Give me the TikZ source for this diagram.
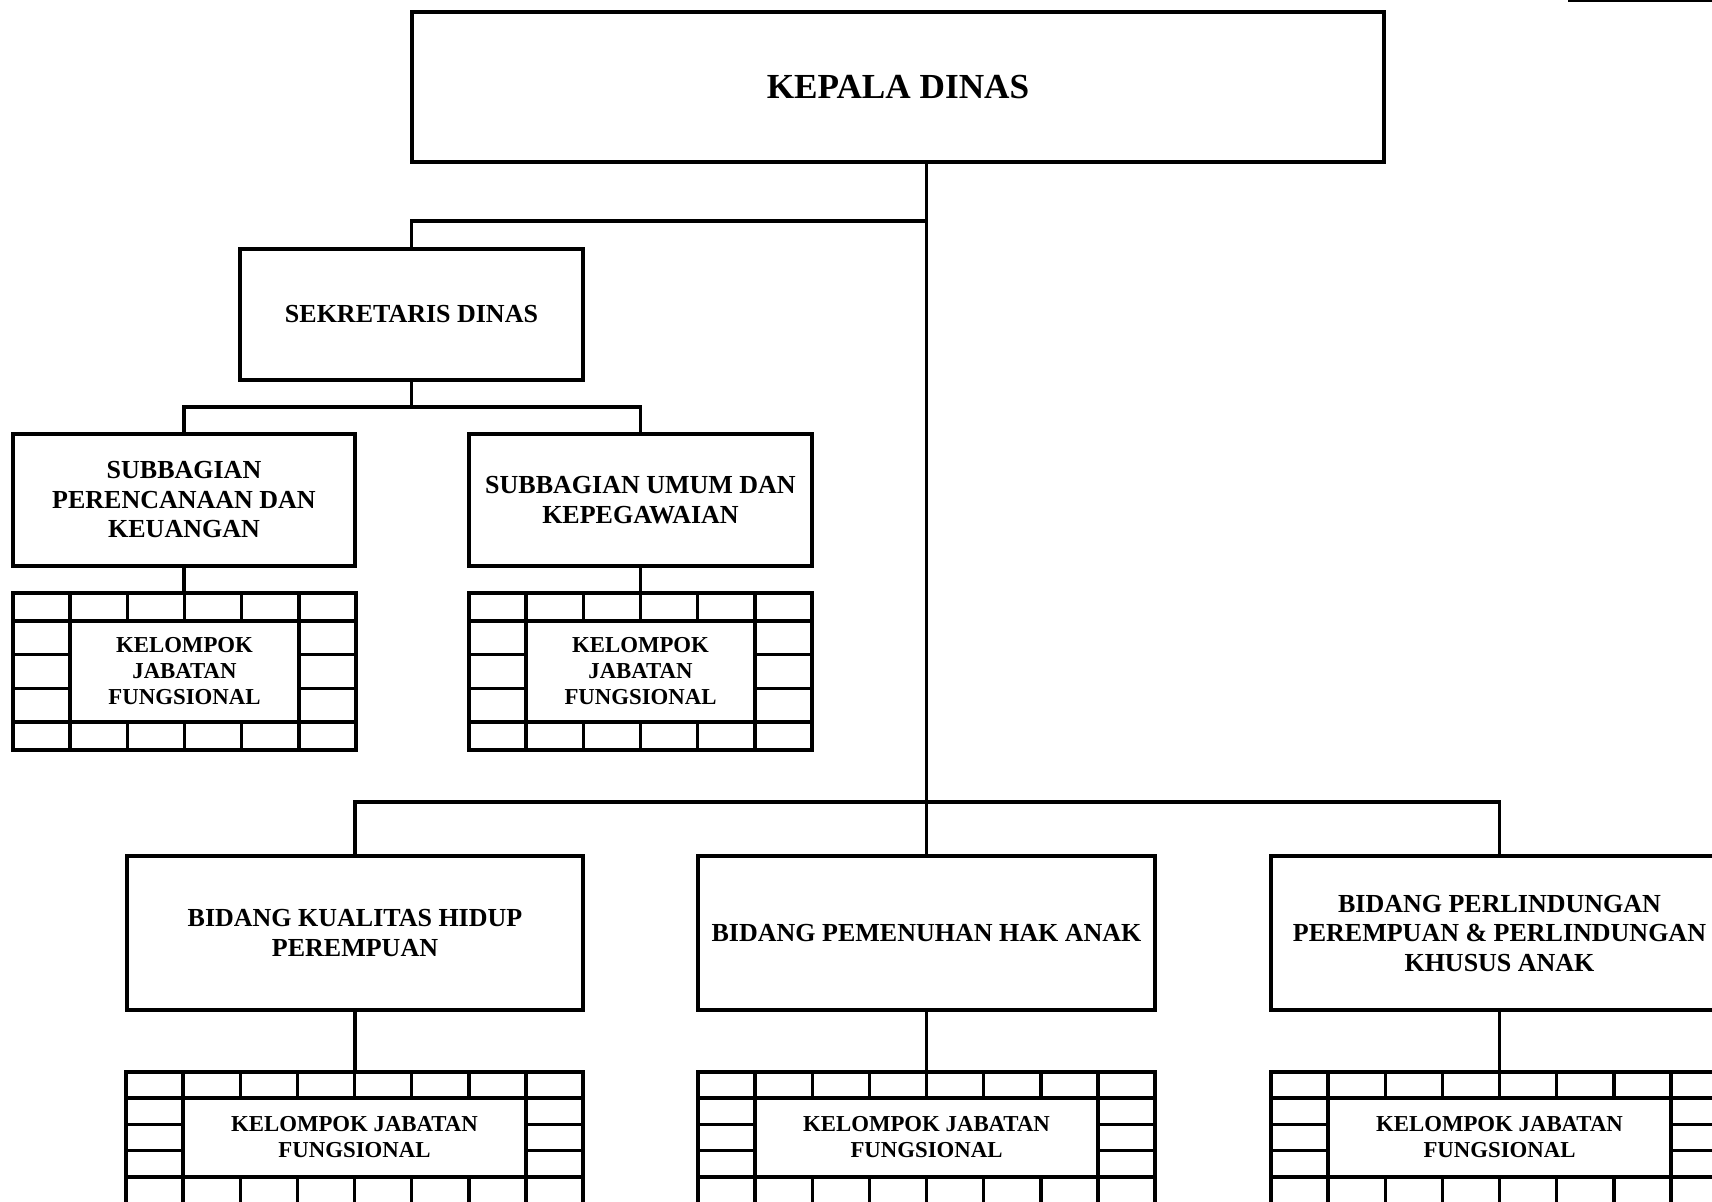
\documentclass[tikz,border=0pt]{standalone}
\usepackage{fontspec}
\setmainfont{Liberation Serif}
\newcommand{\kjgrid}[9]{%
  % #1 name, #2 x0, #3 x1, #4 ncols, #5 ytop, #6 ya, #7 yb, #8 ybottom, #9 text
  \pgfmathsetmacro{\kjcw}{(#3-#2)/#4}
  \pgfmathsetmacro{\kjxa}{#2+\kjcw}
  \pgfmathsetmacro{\kjxb}{#3-\kjcw}
  \pgfmathsetmacro{\kjya}{#6+(#7-#6)/3}
  \pgfmathsetmacro{\kjyb}{#6+2*(#7-#6)/3}
  \node[gridbox, minimum width={(#3-#2)*0.5pt}, minimum height={(#8-#5)*0.5pt}]
    (#1) at ({(#2+#3)/2},{(#5+#8)/2}) {};
  \draw[ln] (#2,#6) -- (#3,#6) (#2,#7) -- (#3,#7);
  \draw[ln] (\kjxa,#5) -- (\kjxa,#8) (\kjxb,#5) -- (\kjxb,#8);
  \pgfmathtruncatemacro{\kjn}{#4-1}
  \foreach \i in {1,...,\kjn}{
    \draw[ln] ({#2+\i*\kjcw},#5) -- ({#2+\i*\kjcw},#6)
              ({#2+\i*\kjcw},#7) -- ({#2+\i*\kjcw},#8);
  }
  \draw[ln] (#2,\kjya) -- (\kjxa,\kjya) (#2,\kjyb) -- (\kjxa,\kjyb)
            (\kjxb,\kjya) -- (#3,\kjya) (\kjxb,\kjyb) -- (#3,\kjyb);
  \node[kjtext] (#1t) at ({(#2+#3)/2},{(#6+#7)/2}) {#9};
}
\begin{document}
\begin{tikzpicture}[x=0.5pt,y=-0.5pt,
  ln/.style={line width=1.75pt, line cap=rect},
  box/.style={draw, line width=1.75pt, rectangle, inner sep=0pt, align=center,
    font=\fontsize{13}{14.75}\selectfont\bfseries},
  gridbox/.style={draw, line width=1.75pt, rectangle, inner sep=0pt},
  kjtext/.style={inner sep=0pt, align=center,
    font=\fontsize{11.4}{13}\selectfont\bfseries}]
\useasboundingbox (0,0) rectangle (1712,1201);
\clip (0,0) rectangle (1712,1201);

% top-right stray line
\draw[line width=0.75pt] (1568,0.8) -- (1712,0.8);

% boxes
\node[box, minimum width=486pt, minimum height=75pt,
  font=\fontsize{17.6}{20}\selectfont\bfseries] (kepala) at (898,87) {\raisebox{-1pt}{KEPALA DINAS}};
\node[box, minimum width=171.5pt, minimum height=65.5pt] (sek) at (411.5,314.5) {SEKRETARIS DINAS};
\node[box, minimum width=171pt, minimum height=66pt] (sub1) at (184,500)
  {SUBBAGIAN\\PERENCANAAN DAN\\KEUANGAN};
\node[box, minimum width=171.5pt, minimum height=66pt] (sub2) at (640.5,500)
  {SUBBAGIAN UMUM DAN\\KEPEGAWAIAN};
\node[box, minimum width=228pt, minimum height=77pt] (b1) at (355,933)
  {BIDANG KUALITAS HIDUP\\PEREMPUAN};
\node[box, minimum width=228.5pt, minimum height=77pt] (b2) at (926.5,933)
  {BIDANG PEMENUHAN HAK ANAK};
\node[box, minimum width=228.5pt, minimum height=77pt] (b3) at (1499.5,933)
  {BIDANG PERLINDUNGAN\\PEREMPUAN \& PERLINDUNGAN\\KHUSUS ANAK};

% kelompok jabatan fungsional grids
\kjgrid{g1}{13}{356}{6}{593}{621}{722}{750}{KELOMPOK\\JABATAN\\FUNGSIONAL}
\kjgrid{g2}{469}{812}{6}{593}{621}{722}{750}{KELOMPOK\\JABATAN\\FUNGSIONAL}
\kjgrid{g3}{126}{583}{8}{1072}{1098}{1177}{1204}{KELOMPOK JABATAN\\FUNGSIONAL}
\kjgrid{g4}{698}{1155}{8}{1072}{1098}{1177}{1204}{KELOMPOK JABATAN\\FUNGSIONAL}
\kjgrid{g5}{1271}{1728}{8}{1072}{1098}{1177}{1204}{KELOMPOK JABATAN\\FUNGSIONAL}

% connectors
\coordinate (j1) at (926.5,221);
\coordinate (j2) at (926.5,802);
\coordinate (j3) at (411.5,407);
\draw[ln] (kepala.south -| b2.north) -- (b2.north);
\draw[ln] (j1) -| (sek.north);
\draw[ln] (b1.north) |- (j2) -| (b3.north);
\draw[ln] (sek.south) -- (j3);
\draw[ln] (sub1.north) |- (j3) -| (sub2.north);
\draw[ln] (sub1.south) -- (sub1.south |- g1.north);
\draw[ln] (sub2.south) -- (sub2.south |- g2.north);
\draw[ln] (b1.south) -- (b1.south |- g3.north);
\draw[ln] (b2.south) -- (b2.south |- g4.north);
\draw[ln] (b3.south) -- (b3.south |- g5.north);
\end{tikzpicture}
\end{document}
